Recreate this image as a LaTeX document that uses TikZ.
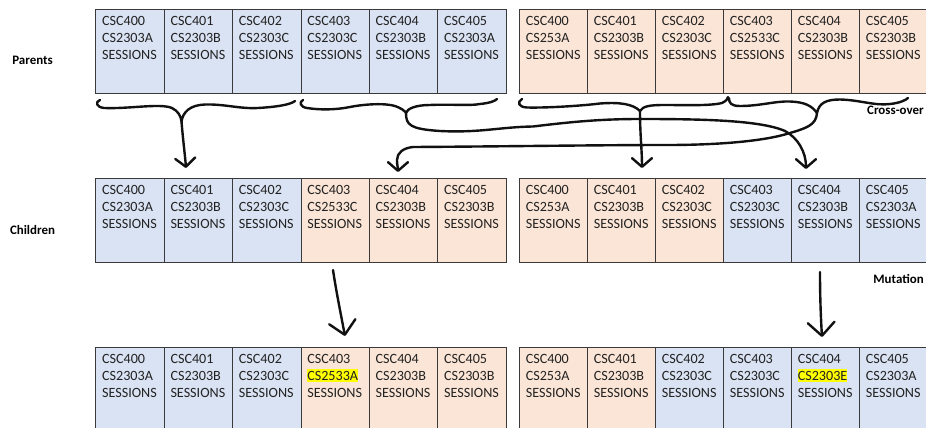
\documentclass[tikz,border=0pt]{standalone}
\usepackage{fontspec}
\setmainfont{Carlito}
\usetikzlibrary{arrows.meta}
\definecolor{blu}{HTML}{DAE3F3}
\definecolor{ora}{HTML}{FBE5D6}
\definecolor{edge}{HTML}{3A3A3A}
\definecolor{hlyel}{HTML}{FFFF00}
\definecolor{inkc}{HTML}{111111}
\definecolor{txt}{HTML}{222222}
\newcommand\hlt[1]{{\setlength{\fboxsep}{0pt}\colorbox{hlyel}{\rule[-1.6pt]{0pt}{10pt}#1}}}
\newcommand\gene[6]{%
  \node[cellbox, minimum width=#3, fill=#4] (#1) at (#2) {};
  \node[celltext] (#1t) at ([xshift=4.9pt,yshift=-4.7pt]#1.north west) {#5\\#6\\SESSIONS};}
\begin{document}
\begin{tikzpicture}[x=0.75pt,y=-0.75pt,
  cellbox/.style={draw=edge, line width=0.75pt, inner sep=0pt, anchor=north west, minimum height=63pt},
  celltext/.style={anchor=north west, inner sep=0pt, align=left, text=txt, font=\fontsize{10.6}{12.75}\selectfont},
  lab/.style={font=\fontsize{9.7}{11}\selectfont\bfseries, inner sep=0pt, text=black},
  inkline/.style={draw=inkc, line width=1.8pt, line cap=round, line join=round},
  xo/.style={inkline, -{Straight Barb[length=6.5pt,width=15pt,round]}},
  mu/.style={inkline, -{Straight Barb[length=10pt,width=20pt,round]}}]
\useasboundingbox (0,0) rectangle (926,428);
\begin{scope}
\clip (0,0) rectangle (926,428);
% ---------- Row 1 : parents ----------
\foreach \i/\c in {0/CS2303A,1/CS2303B,2/CS2303C,3/CS2303C,4/CS2303B,5/CS2303A}
  {\gene{r1L\i}{95.3+\i*68.4,9.3}{51.3pt}{blu}{CSC40\i}{\c}}
\foreach \i/\c in {0/CS253A,1/CS2303B,2/CS2303C,3/CS2533C,4/CS2303B,5/CS2303B}
  {\gene{r1R\i}{519+\i*68,9.3}{51pt}{ora}{CSC40\i}{\c}}
% ---------- Row 2 : children ----------
\foreach \i/\c/\f in {0/CS2303A/blu,1/CS2303B/blu,2/CS2303C/blu,3/CS2533C/ora,4/CS2303B/ora,5/CS2303B/ora}
  {\gene{r2L\i}{95.3+\i*68.4,178.3}{51.3pt}{\f}{CSC40\i}{\c}}
\foreach \i/\c/\f in {0/CS253A/ora,1/CS2303B/ora,2/CS2303C/ora,3/CS2303C/blu,4/CS2303B/blu,5/CS2303A/blu}
  {\gene{r2R\i}{519+\i*68,178.3}{51pt}{\f}{CSC40\i}{\c}}
% ---------- Row 3 : mutated ----------
\foreach \i/\c/\f in {0/CS2303A/blu,1/CS2303B/blu,2/CS2303C/blu,3/\hlt{CS2533A}/ora,4/CS2303B/ora,5/CS2303B/ora}
  {\gene{r3L\i}{95.3+\i*68.4,347.3}{51.3pt}{\f}{CSC40\i}{\c}}
\foreach \i/\c/\f in {0/CS253A/ora,1/CS2303B/ora,2/CS2303C/blu,3/CS2303C/blu,4/\hlt{CS2303E}/blu,5/CS2303A/blu}
  {\gene{r3R\i}{519+\i*68,347.3}{51pt}{\f}{CSC40\i}{\c}}
\end{scope}
% ---------- labels ----------
\node[lab, anchor=base] (parents) at (32.5,65) {Parents};
\node[lab, anchor=base] (children) at (32.5,234) {Children};
\node[lab, anchor=base east] (xover) at (924,115) {Cross-over};
\node[lab, anchor=base east] (mut) at (924,283) {Mutation};
% ---------- hand-drawn cross-over marks ----------
\coordinate (b1) at (181.5,121.5); \coordinate (t1) at (186,168);
\coordinate (b2) at (406,113);   \coordinate (t2) at (806,169);
\coordinate (b3) at (640,111);   \coordinate (t3) at (642,168);
\coordinate (b4) at (817,113);   \coordinate (t4) at (398,172);
\coordinate (m1s) at (333,270);  \coordinate (m1t) at (345,336);
\coordinate (m2s) at (820,272);  \coordinate (m2t) at (822,337);
% brace 1
\draw[inkline] (100,100) .. controls (95,102) and (96,107) .. (104,108)
  .. controls (130,109) and (160,103) .. (172,108)
  .. controls (178,111) and (181,116) .. (b1)
  .. controls (183,112) and (190,105) .. (205,104.5)
  .. controls (225,104) and (240,109) .. (258,108)
  .. controls (275,107) and (290,105) .. (295,101);
\draw[xo] (b1) .. controls (183,140) and (185,155) .. (t1);
% brace 2
\draw[inkline] (303,100) .. controls (299,102) and (300,107) .. (307,108)
  .. controls (320,110) and (335,110) .. (350,107)
  .. controls (365,104) and (385,103) .. (395,106)
  .. controls (401,108) and (405,111) .. (b2)
  .. controls (407,109) and (415,105) .. (430,105)
  .. controls (450,104) and (470,106) .. (480,104)
  .. controls (490,103) and (495,101) .. (497,99);
\draw[xo] (b2) .. controls (406,125) and (410,129) .. (440,131)
  .. controls (480,133) and (500,127) .. (533,126.5)
  .. controls (570,122) and (600,119) .. (640,119)
  .. controls (700,119) and (760,120) .. (785,131)
  .. controls (798,138) and (806,152) .. (t2);
% brace 3
\draw[inkline] (522,99) .. controls (517,102) and (518,107) .. (527,107.5)
  .. controls (545,108) and (580,106) .. (600,103.5)
  .. controls (620,102) and (633,104) .. (b3)
  .. controls (643,106) and (650,105) .. (665,105)
  .. controls (685,105) and (710,106) .. (722,103)
  .. controls (726,101) and (728,99) .. (728,97);
\draw[xo] (b3) .. controls (640,135) and (642,150) .. (t3);
% brace 4
\draw[inkline] (729,98) .. controls (729,103) and (731,106) .. (740,106)
  .. controls (760,106) and (775,101) .. (790,101.5)
  .. controls (805,102) and (812,106) .. (b4)
  .. controls (819,103) and (826,99.5) .. (840,99.5)
  .. controls (860,100) and (875,106) .. (890,104)
  .. controls (900,103) and (906,100) .. (908,98);
\draw[xo] (b4) .. controls (816,125) and (808,128) .. (783,135)
  .. controls (760,141) and (720,145) .. (667,145)
  .. controls (600,145) and (500,146.5) .. (413,147)
  .. controls (403,148) and (397,153) .. (397,160)
  .. controls (397,165) and (398,168) .. (t4);
% ---------- mutation arrows ----------
\draw[mu] (m1s) .. controls (336,290) and (340,310) .. (m1t);
\draw[mu] (m2s) .. controls (820,300) and (821,320) .. (m2t);
\end{tikzpicture}
\end{document}
